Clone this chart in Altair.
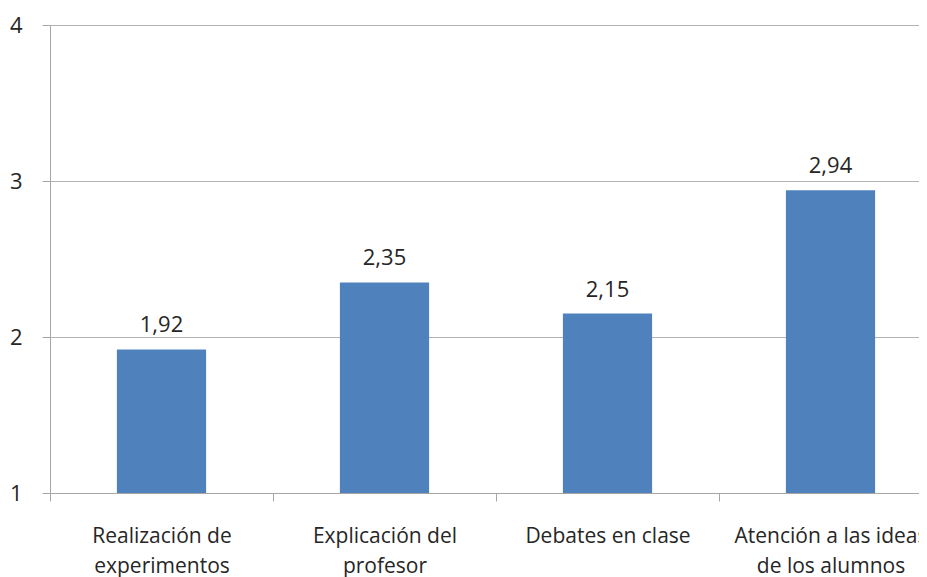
import altair as alt
import pandas as pd

categories = ["Realización de|experimentos", "Explicación del|profesor",
              "Debates en clase", "Atención a las ideas|de los alumnos"]
values = [1.92, 2.35, 2.15, 2.94]
y_ticks = [1, 2, 3, 4]
y_base = 1

df = pd.DataFrame({
    "cat": categories,
    "val": values,
    "lbl": [f"{v:.2f}".replace(".", ",") for v in values],
})

FONT = "Open Sans"
x = alt.X("cat:N", sort=categories, title=None,
          scale=alt.Scale(range=[0, 892], paddingInner=0, paddingOuter=0),
          axis=alt.Axis(labelAngle=0, labelExpr="split(datum.label, '|')",
                        tickBand="extent", tickSize=8, tickColor="#a6a6a6",
                        domainColor="#a6a6a6", labelFontSize=21, labelFont=FONT,
                        labelColor="#262626", labelPadding=24, labelLineHeight=30,
                        labelBaseline="top", labelLimit=400, grid=False))
y = alt.Y("val:Q", title=None,
          scale=alt.Scale(domain=[1, 4], nice=False, zero=False),
          axis=alt.Axis(values=y_ticks, tickSize=8, tickColor="#a6a6a6",
                        domainColor="#a6a6a6", gridColor="#b3b3b3",
                        labelFontSize=22, labelFont=FONT, labelColor="#262626",
                        labelPadding=20, format="d"))

bars = alt.Chart(df).mark_bar(color="#4F81BD", width={"band": 0.4}).encode(
    x=x, y=y, y2=alt.Y2(datum=y_base))
text = alt.Chart(df).mark_text(dy=-17, baseline="alphabetic", fontSize=22,
                               font=FONT, color="#262626").encode(
    x=alt.X("cat:N", sort=categories), y="val:Q", text="lbl:N")

chart = (bars + text).properties(
    width=869, height=468,
    autosize=alt.AutoSizeParams(type="none"),
    padding={"left": 42, "top": 17, "right": 0, "bottom": 84},
).configure_view(stroke=None)

chart.save("out.html", embed_options={"renderer": "svg", "actions": False})
